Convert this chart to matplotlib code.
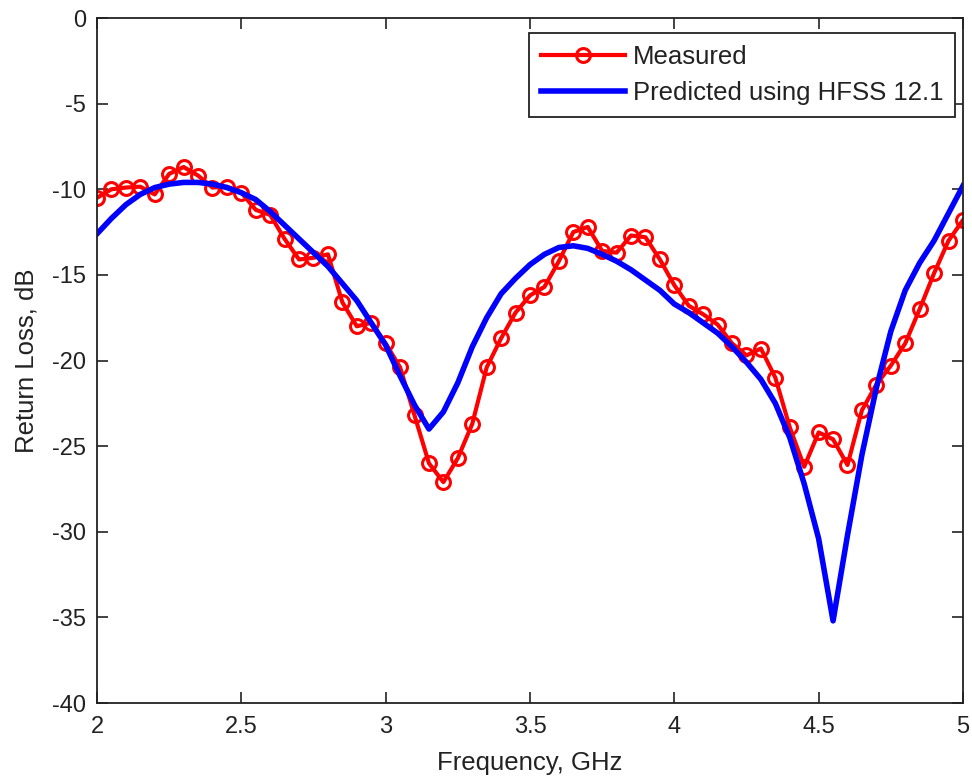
# Return loss: measured vs HFSS prediction
import numpy as np
import matplotlib.pyplot as plt

# Frequency grid, GHz (both curves sampled every 0.05 GHz)
freq = np.round(np.arange(2.0, 5.0001, 0.05), 2)

# Measured return loss, dB
measured = [-10.5, -10.0, -9.9, -9.85, -10.3, -9.1, -8.7, -9.2, -9.9, -9.85,
            -10.2, -11.2, -11.5, -12.9, -14.1, -14.0, -13.8, -16.6, -18.0, -17.8,
            -19.0, -20.4, -23.2, -26.0, -27.1, -25.7, -23.7, -20.4, -18.7, -17.2,
            -16.2, -15.7, -14.2, -12.5, -12.2, -13.6, -13.7, -12.7, -12.8, -14.1,
            -15.6, -16.8, -17.3, -17.9, -19.0, -19.7, -19.3, -21.0, -23.9, -26.2,
            -24.2, -24.6, -26.1, -22.9, -21.4, -20.3, -19.0, -17.0, -14.9, -13.0,
            -11.8]

# Predicted (HFSS 12.1), dB
predicted = [-12.6, -11.7, -10.9, -10.3, -9.9, -9.7, -9.6, -9.6, -9.7, -9.9,
             -10.2, -10.6, -11.3, -12.1, -12.9, -13.7, -14.5, -15.5, -16.5, -17.8,
             -19.1, -20.9, -22.6, -24.0, -23.0, -21.3, -19.2, -17.5, -16.1, -15.2,
             -14.4, -13.8, -13.4, -13.3, -13.45, -13.8, -14.2, -14.7, -15.3, -15.9,
             -16.7, -17.2, -17.8, -18.4, -19.2, -20.1, -21.1, -22.5, -24.5, -27.2,
             -30.4, -35.2, -30.2, -25.5, -21.6, -18.3, -15.9, -14.3, -13.0, -11.4,
             -9.8]

xticks = [2, 2.5, 3, 3.5, 4, 4.5, 5]
xticklabels = ['2', '2.5', '3', '3.5', '4', '4.5', '5']
yticks = list(range(-40, 1, 5))

plt.rcParams['font.family'] = ['Liberation Sans', 'DejaVu Sans']
plt.rcParams['axes.unicode_minus'] = False

fig = plt.figure(figsize=(9.72, 7.76), dpi=100)
ax = fig.add_axes([0.0998, 0.094, 0.8909, 0.8828])

ax.plot(freq, measured, color='red', linewidth=3, marker='o', markersize=10,
        markerfacecolor='none', markeredgewidth=2.2, label='Measured')
ax.plot(freq, predicted, color='blue', linewidth=4, label='Predicted using HFSS 12.1')

ax.set_xlim(2, 5)
ax.set_ylim(-40, 0)
ax.set_xticks(xticks)
ax.set_xticklabels(xticklabels)
ax.set_yticks(yticks)
ax.tick_params(direction='in', top=True, right=True, labelsize=17, length=8,
               width=1.2, colors='#222222')
ax.tick_params(axis='x', pad=9)
ax.tick_params(axis='y', pad=8)
for s in ax.spines.values():
    s.set_linewidth(1.3)
    s.set_color('#222222')

ax.set_xlabel('Frequency, GHz', fontsize=18.5, labelpad=10, color='#222222')
ax.set_ylabel('Return Loss, dB', fontsize=18.5, labelpad=10, color='#222222')

leg = ax.legend(loc='upper right', bbox_to_anchor=(0.991, 0.978), borderaxespad=0,
                fontsize=18.5, fancybox=False, framealpha=1, edgecolor='#222222',
                handlelength=3.3, handletextpad=0.3, borderpad=0.45,
                labelspacing=0.5)
leg.get_frame().set_linewidth(1.3)
for t in leg.get_texts():
    t.set_color('#222222')

fig.savefig('out.png', dpi=100)
